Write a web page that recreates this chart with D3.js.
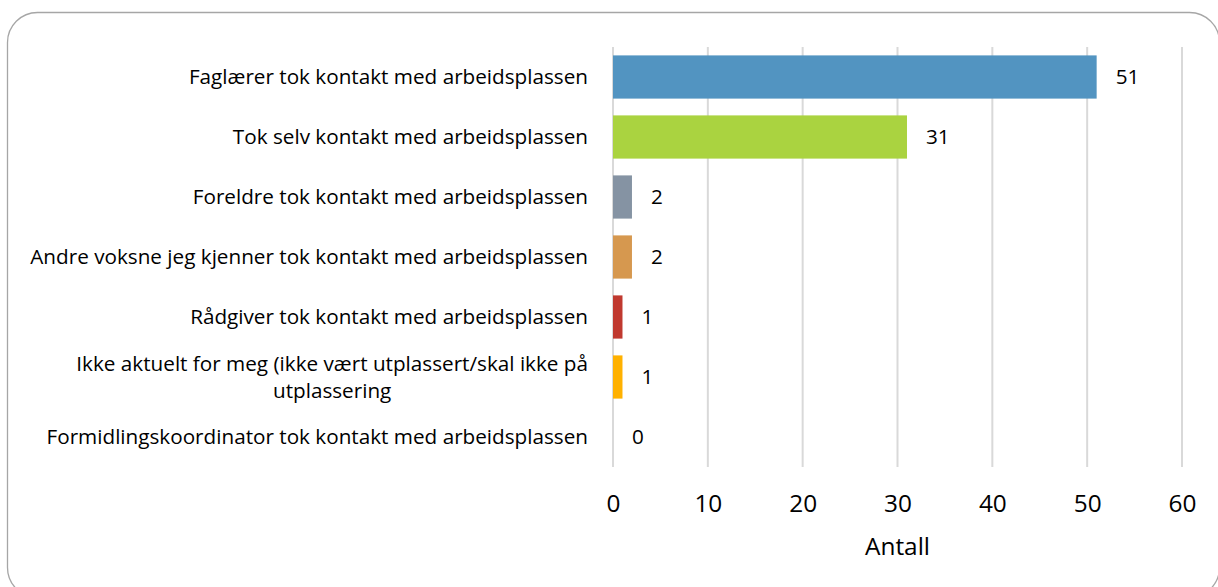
<!DOCTYPE html>
<html>
<head>
<meta charset="utf-8">
<script src="https://cdn.jsdelivr.net/npm/d3@7/dist/d3.min.js"></script>
<style>
  html, body { margin: 0; padding: 0; background: #fff; }
  svg { display: block; }
  text { font-family: "Open Sans", "Noto Sans", sans-serif; fill: #000; }
</style>
</head>
<body>
<svg id="chart" width="1218" height="587"></svg>
<script>
const categories = [
  ["Faglærer tok kontakt med arbeidsplassen"],
  ["Tok selv kontakt med arbeidsplassen"],
  ["Foreldre tok kontakt med arbeidsplassen"],
  ["Andre voksne jeg kjenner tok kontakt med arbeidsplassen"],
  ["Rådgiver tok kontakt med arbeidsplassen"],
  ["Ikke aktuelt for meg (ikke vært utplassert/skal ikke på", "utplassering"],
  ["Formidlingskoordinator tok kontakt med arbeidsplassen"]
];
const values = [51, 31, 2, 2, 1, 1, 0];
const colors = ["#5294c1", "#aad340", "#8593a3", "#d6984f", "#c0392f", "#ffb100", "#999999"];
const tickValues = [0, 10, 20, 30, 40, 50, 60];
const axisTitle = "Antall";

const svg = d3.select("#chart");

// frame
svg.append("rect")
  .attr("x", 7.5).attr("y", 12.5)
  .attr("width", 1212).attr("height", 585)
  .attr("rx", 30).attr("ry", 30)
  .attr("fill", "none").attr("stroke", "#a6a6a6").attr("stroke-width", 1.3);

const x = d3.scaleLinear().domain([0, 60]).range([613, 1182]);
const y = d3.scaleBand().domain(d3.range(categories.length)).range([47, 467]).paddingInner(0.28).paddingOuter(0.14);

// helper: measure text width
function measure(str, size) {
  const t = svg.append("text").attr("font-size", size).text(str);
  const w = t.node().getComputedTextLength();
  t.remove();
  return w;
}
const catSize = 18 * 542 / measure(categories[6][0], 18);
const tickSize = 20 * 65 / measure(axisTitle, 20);

// gridlines
svg.append("g").selectAll("line").data(tickValues).join("line")
  .attr("x1", d => x(d)).attr("x2", d => x(d))
  .attr("y1", 47).attr("y2", 467)
  .attr("stroke", "#d9d9d9").attr("stroke-width", 2);

// bars
svg.append("g").selectAll("rect").data(values).join("rect")
  .attr("x", x(0))
  .attr("y", (d, i) => y(i))
  .attr("width", d => x(d) - x(0))
  .attr("height", y.bandwidth())
  .attr("fill", (d, i) => colors[i]);

// value labels
svg.append("g").selectAll("text").data(values).join("text")
  .attr("x", d => x(d) + 19)
  .attr("y", (d, i) => y(i) + y.bandwidth() / 2)
  .attr("dy", "0.36em")
  .attr("font-size", catSize)
  .text(d => d);

// category labels
const catG = svg.append("g");
categories.forEach((lines, i) => {
  const cy = y(i) + y.bandwidth() / 2;
  const lh = 27;
  const n = lines.length;
  const maxW = d3.max(lines, ln => measure(ln, catSize));
  lines.forEach((ln, j) => {
    catG.append("text")
      .attr("font-size", catSize)
      .attr("text-anchor", n > 1 ? "middle" : "end")
      .attr("x", n > 1 ? 588 - maxW / 2 : 588)
      .attr("y", cy + (j - (n - 1) / 2) * lh)
      .attr("dy", "0.36em")
      .text(ln);
  });
});

// x axis tick labels
const axis = d3.axisBottom(x).tickValues(tickValues).tickSize(0).tickPadding(0);
const ag = svg.append("g").attr("transform", "translate(0,503)").call(axis);
ag.select(".domain").remove();
ag.selectAll("text").attr("font-size", tickSize).attr("font-family", "'Open Sans', 'Noto Sans', sans-serif").attr("fill", "#000").attr("dy", "0.36em");

svg.append("text")
  .attr("x", x(30)).attr("y", 546)
  .attr("dy", "0.36em")
  .attr("text-anchor", "middle")
  .attr("font-size", tickSize)
  .text(axisTitle);
</script>
</body>
</html>
